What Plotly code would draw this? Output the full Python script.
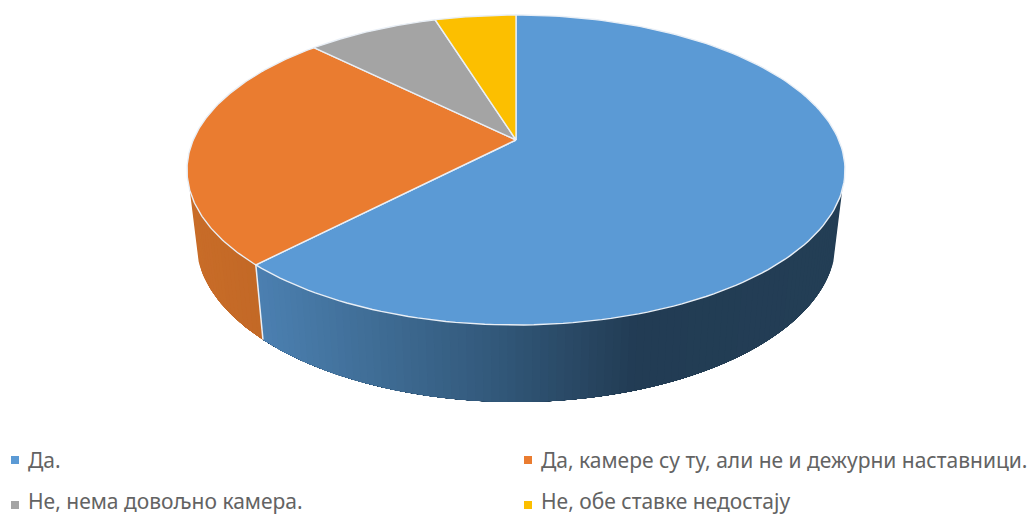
import numpy as np
import plotly.graph_objects as go

categories = ["Да.", "Да, камере су ту, али не и дежурни наставници.",
              "Не, нема довољно камера.", "Не, обе ставке недостају"]
values = [62.2, 25.2, 7.8, 4.8]
colors = ["#5b9ad5", "#ea7c30", "#a4a4a4", "#fcbf00"]

W, H = 1034, 515
CX, CY, RX, RY = 516, 170, 329, 155
TILT = 30 / 155            # apex sits above the ellipse centre (perspective)
BCX, BCY, BRX, BRY = 516, 241, 320, 161
SIDE_START = np.radians(7.4)
BLUE_STOPS = [(262, (75, 127, 176)), (370, (64, 110, 151)), (500, (50, 88, 122)),
              (640, (34, 60, 84)), (845, (35, 62, 85))]
ORANGE_WALL = [(188, (200, 108, 40)), (262, (194, 104, 38))]
RIM = "#e9eff6"


def project(theta):
    x, y = np.sin(theta), np.cos(theta)
    den = 1 + TILT * y
    return (CX + RX * x * np.sqrt(1 - TILT ** 2) / den,
            CY - RY * (y + TILT) / den)


def ramp(x, stops):
    xs = [s[0] for s in stops]
    rgb = [float(np.interp(x, xs, [s[1][i] for s in stops])) for i in range(3)]
    return "rgb(%d,%d,%d)" % tuple(round(c) for c in rgb)


fig = go.Figure()

# Wall of the pie: only the first two slices face the viewer
end_blue = 2 * np.pi * values[0] / sum(values)
jx, jy = project(end_blue)
t_j = np.arctan2((jy - CY) / RY, (jx - CX) / RX)


def wall(t0, t1, stops):
    # Each band runs on to the far end of the wall and is painted over by the next,
    # so no seams appear between neighbouring bands.
    ts = np.linspace(t0, t1, max(2, int(abs(t1 - t0) * 40)))
    for a in ts[:-1]:
        arc = np.linspace(a, t1, 40)
        xs = list(CX + RX * np.cos(arc)) + list(BCX + BRX * np.cos(arc[::-1]))
        ys = list(CY + RY * np.sin(arc)) + list(BCY + BRY * np.sin(arc[::-1]))
        c = ramp(CX + RX * np.cos(a), stops)
        fig.add_trace(go.Scatter(x=xs + xs[:1], y=ys + ys[:1], mode="lines", fill="toself",
                                 fillcolor=c, line=dict(width=0),
                                 hoverinfo="skip", showlegend=False))


wall(SIDE_START, t_j, BLUE_STOPS)
wall(np.pi - SIDE_START, t_j, ORANGE_WALL)
fig.add_trace(go.Scatter(x=[jx, BCX + BRX * np.cos(t_j)], y=[jy, BCY + BRY * np.sin(t_j)],
                         mode="lines", line=dict(color=RIM, width=1.5),
                         hoverinfo="skip", showlegend=False))

# Top face
ax, ay = CX, CY - RY * TILT
start = 0.0
for name, val, col in zip(categories, values, colors):
    stop = start + 2 * np.pi * val / sum(values)
    th = np.linspace(start, stop, 160)
    px, py = project(th)
    fig.add_trace(go.Scatter(x=[ax, *px, ax], y=[ay, *py, ay], mode="lines", fill="toself",
                             fillcolor=col, line=dict(color=RIM, width=1.4),
                             name=name, hoverinfo="name", showlegend=False))
    start = stop

# Legend
LEG_X = [15, 528, 15, 528]
LEG_Y = [460, 460, 505, 505]
TEXT_BOTTOM = [476, 476, 515, 515]
fig.add_trace(go.Scatter(x=LEG_X, y=LEG_Y, mode="markers",
                         marker=dict(symbol="square", size=8, color=colors),
                         hoverinfo="skip", showlegend=False))
for name, lx, ly in zip(categories, LEG_X, TEXT_BOTTOM):
    fig.add_annotation(x=lx + 11, y=ly, yshift=-2 if ly == H else 0, text=name, showarrow=False,
                       xanchor="left", yanchor="bottom",
                       font=dict(family="Noto Sans", size=21, color="#636363"))

fig.update_layout(width=W, height=H, margin=dict(l=0, r=0, t=0, b=0),
                  paper_bgcolor="white", plot_bgcolor="white", showlegend=False)
fig.update_xaxes(range=[0, W], visible=False, fixedrange=True)
fig.update_yaxes(range=[H, 0], visible=False, fixedrange=True)
fig.write_html("out.html", post_script="document.body.style.margin='0';document.body.style.overflow='hidden';",
               config=dict(displayModeBar=False))
